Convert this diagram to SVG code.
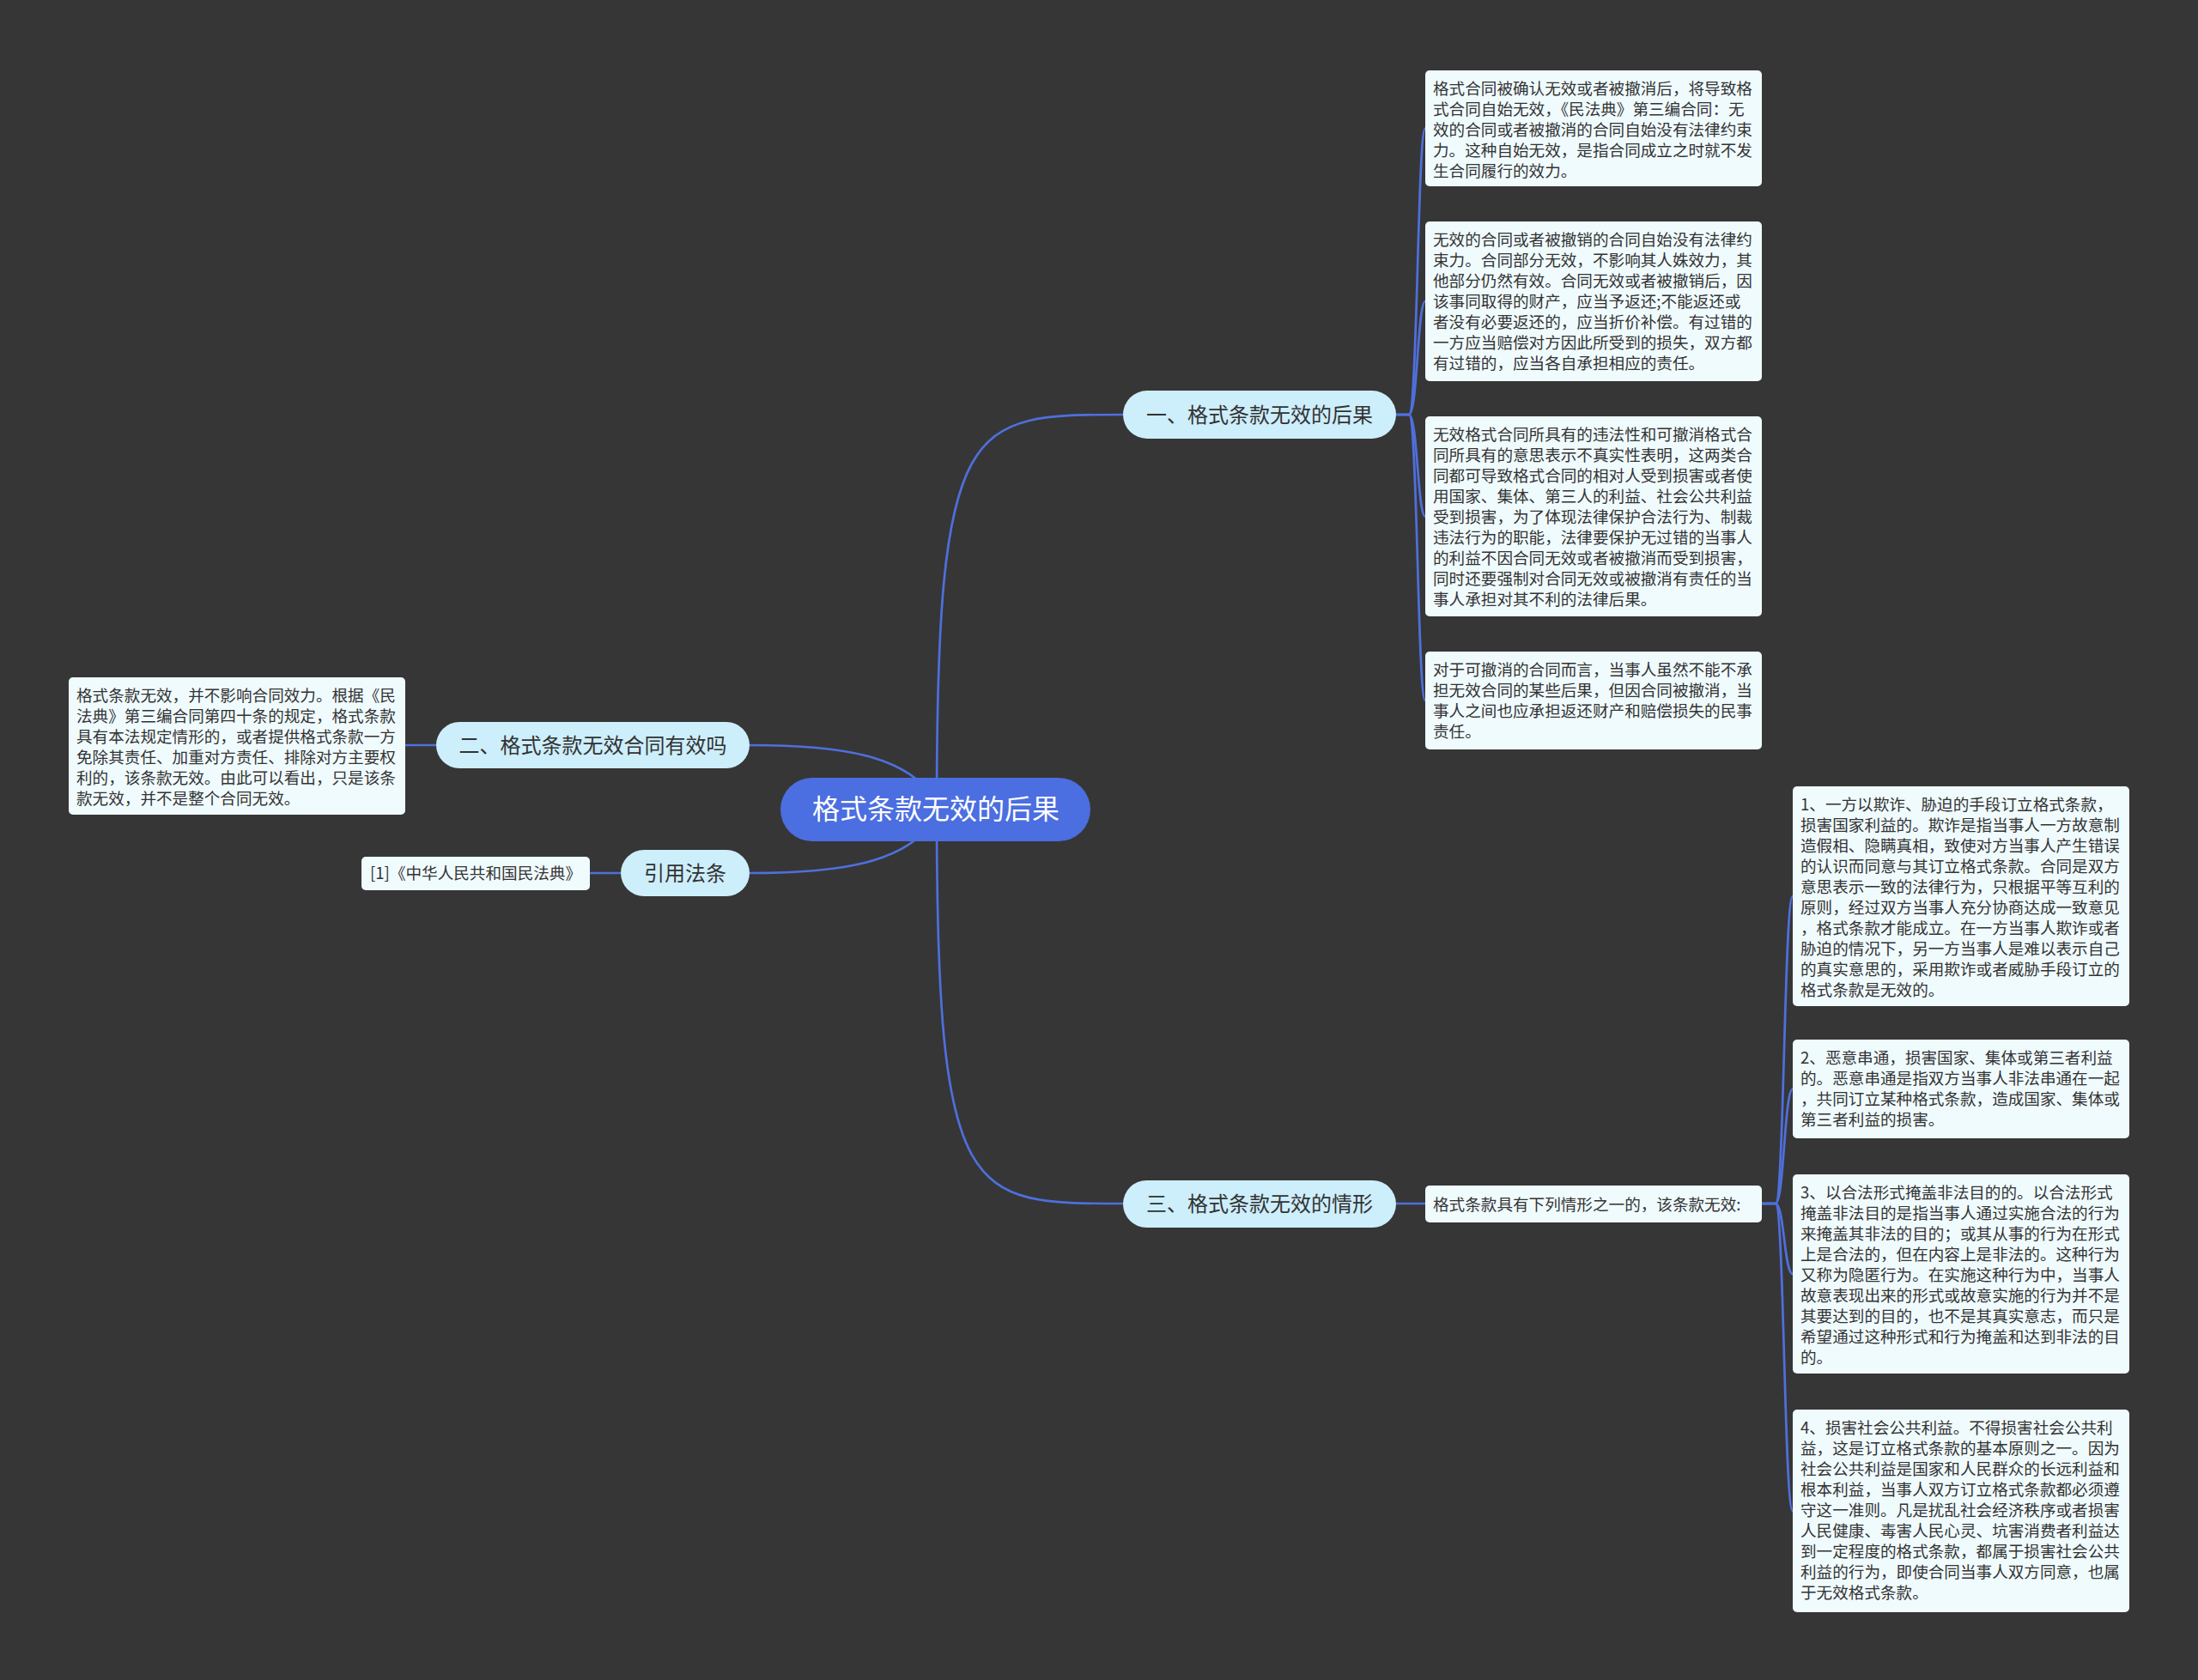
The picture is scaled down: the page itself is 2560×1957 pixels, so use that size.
<svg xmlns="http://www.w3.org/2000/svg" width="2560" height="1957" viewBox="0 0 2560 1957">
<style>
text{font-family:"Noto Sans CJK SC","Noto Sans",sans-serif;}
.conn{fill:none;stroke:#4F6FDC;stroke-width:2.7}
.root rect{fill:#4B6EE0}
.root text{fill:#ffffff;font-size:32px;text-anchor:middle}
.topic rect{fill:#CDEEFB}
.topic text{fill:#333333;font-size:24px;text-anchor:middle}
.leaf rect{fill:#F0FBFE}
.leaf text{fill:#333333;font-size:18.6px;transform:translateY(1.5px)}
</style>
<rect x="0" y="0" width="2560" height="1957" fill="#363636"/>
<g id="connectors">
<path class="conn" d="M1091,943 C1091,483 1127,483 1308,483"/>
<path class="conn" d="M1091,943 C1091,1402 1127,1402 1308,1402"/>
<path class="conn" d="M873,868 C980,868 1055,880 1088,930"/>
<path class="conn" d="M873,1017 C980,1017 1055,1005 1088,955"/>
<path class="conn" d="M508,868 L472,868"/>
<path class="conn" d="M723,1017 L687,1017"/>
<path class="conn" d="M1626,483 L1641,483 C1651,483 1651,149.5 1660,149.5"/>
<path class="conn" d="M1626,483 L1641,483 C1651,483 1651,351 1660,351"/>
<path class="conn" d="M1626,483 L1641,483 C1651,483 1651,601.5 1660,601.5"/>
<path class="conn" d="M1626,483 L1641,483 C1651,483 1651,816 1660,816"/>
<path class="conn" d="M1626,1402 L1660,1402"/>
<path class="conn" d="M2052,1402 L2068,1402 C2078,1402 2078,1044 2088,1044"/>
<path class="conn" d="M2052,1402 L2068,1402 C2078,1402 2078,1268.5 2088,1268.5"/>
<path class="conn" d="M2052,1402 L2068,1402 C2078,1402 2078,1484 2088,1484"/>
<path class="conn" d="M2052,1402 L2068,1402 C2078,1402 2078,1760 2088,1760"/>
</g>
<g id="root" class="root">
<rect x="909" y="906" width="361" height="74" rx="37"/>
<text x="1090" y="954">格式条款无效的后果</text>
</g>
<g id="topic1" class="topic">
<rect x="1308" y="455" width="318" height="56" rx="28"/>
<text x="1467" y="491.5">一、格式条款无效的后果</text>
</g>
<g id="topic2" class="topic">
<rect x="508" y="841" width="365" height="54" rx="27"/>
<text x="690.5" y="876.5">二、格式条款无效合同有效吗</text>
</g>
<g id="topic3" class="topic">
<rect x="1308" y="1375" width="318" height="55" rx="27.5"/>
<text x="1467" y="1411">三、格式条款无效的情形</text>
</g>
<g id="topic4" class="topic">
<rect x="723" y="990" width="150" height="54" rx="27"/>
<text x="798" y="1025.5">引用法条</text>
</g>
<g id="leaf-ref" class="leaf">
<rect x="421" y="998" width="266" height="39" rx="5"/>
<text x="431" y="1022.5">[1]《中华人民共和国民法典》</text>
</g>
<g id="leaf-2" class="leaf">
<rect x="80" y="789" width="392" height="160" rx="5"/>
<text>
<tspan x="89" y="815">格式条款无效，并不影响合同效力。根据《民</tspan>
<tspan x="89" y="839">法典》第三编合同第四十条的规定，格式条款</tspan>
<tspan x="89" y="863">具有本法规定情形的，或者提供格式条款一方</tspan>
<tspan x="89" y="887">免除其责任、加重对方责任、排除对方主要权</tspan>
<tspan x="89" y="911">利的，该条款无效。由此可以看出，只是该条</tspan>
<tspan x="89" y="935">款无效，并不是整个合同无效。</tspan>
</text>
</g>
<g id="leaf-1a" class="leaf">
<rect x="1660" y="82" width="392" height="135" rx="5"/>
<text>
<tspan x="1669" y="108">格式合同被确认无效或者被撤消后，将导致格</tspan>
<tspan x="1669" y="132">式合同自始无效，《民法典》第三编合同：无</tspan>
<tspan x="1669" y="156">效的合同或者被撤消的合同自始没有法律约束</tspan>
<tspan x="1669" y="180">力。这种自始无效，是指合同成立之时就不发</tspan>
<tspan x="1669" y="204">生合同履行的效力。</tspan>
</text>
</g>
<g id="leaf-1b" class="leaf">
<rect x="1660" y="258" width="392" height="186" rx="5"/>
<text>
<tspan x="1669" y="284">无效的合同或者被撤销的合同自始没有法律约</tspan>
<tspan x="1669" y="308">束力。合同部分无效，不影响其人姝效力，其</tspan>
<tspan x="1669" y="332">他部分仍然有效。合同无效或者被撤销后，因</tspan>
<tspan x="1669" y="356">该事同取得的财产，应当予返还;不能返还或</tspan>
<tspan x="1669" y="380">者没有必要返还的，应当折价补偿。有过错的</tspan>
<tspan x="1669" y="404">一方应当赔偿对方因此所受到的损失，双方都</tspan>
<tspan x="1669" y="428">有过错的，应当各自承担相应的责任。</tspan>
</text>
</g>
<g id="leaf-1c" class="leaf">
<rect x="1660" y="485" width="392" height="233" rx="5"/>
<text>
<tspan x="1669" y="511">无效格式合同所具有的违法性和可撤消格式合</tspan>
<tspan x="1669" y="535">同所具有的意思表示不真实性表明，这两类合</tspan>
<tspan x="1669" y="559">同都可导致格式合同的相对人受到损害或者使</tspan>
<tspan x="1669" y="583">用国家、集体、第三人的利益、社会公共利益</tspan>
<tspan x="1669" y="607">受到损害，为了体现法律保护合法行为、制裁</tspan>
<tspan x="1669" y="631">违法行为的职能，法律要保护无过错的当事人</tspan>
<tspan x="1669" y="655">的利益不因合同无效或者被撤消而受到损害，</tspan>
<tspan x="1669" y="679">同时还要强制对合同无效或被撤消有责任的当</tspan>
<tspan x="1669" y="703">事人承担对其不利的法律后果。</tspan>
</text>
</g>
<g id="leaf-1d" class="leaf">
<rect x="1660" y="759" width="392" height="114" rx="5"/>
<text>
<tspan x="1669" y="785">对于可撤消的合同而言，当事人虽然不能不承</tspan>
<tspan x="1669" y="809">担无效合同的某些后果，但因合同被撤消，当</tspan>
<tspan x="1669" y="833">事人之间也应承担返还财产和赔偿损失的民事</tspan>
<tspan x="1669" y="857">责任。</tspan>
</text>
</g>
<g id="leaf-3" class="leaf">
<rect x="1660" y="1381" width="392" height="43" rx="5"/>
<text x="1669" y="1408">格式条款具有下列情形之一的，该条款无效:</text>
</g>
<g id="leaf-3a" class="leaf">
<rect x="2088" y="916" width="392" height="256" rx="5"/>
<text>
<tspan x="2097" y="942">1、一方以欺诈、胁迫的手段订立格式条款，</tspan>
<tspan x="2097" y="966">损害国家利益的。欺诈是指当事人一方故意制</tspan>
<tspan x="2097" y="990">造假相、隐瞒真相，致使对方当事人产生错误</tspan>
<tspan x="2097" y="1014">的认识而同意与其订立格式条款。合同是双方</tspan>
<tspan x="2097" y="1038">意思表示一致的法律行为，只根据平等互利的</tspan>
<tspan x="2097" y="1062">原则，经过双方当事人充分协商达成一致意见</tspan>
<tspan x="2097" y="1086">，格式条款才能成立。在一方当事人欺诈或者</tspan>
<tspan x="2097" y="1110">胁迫的情况下，另一方当事人是难以表示自己</tspan>
<tspan x="2097" y="1134">的真实意思的，采用欺诈或者威胁手段订立的</tspan>
<tspan x="2097" y="1158">格式条款是无效的。</tspan>
</text>
</g>
<g id="leaf-3b" class="leaf">
<rect x="2088" y="1211" width="392" height="115" rx="5"/>
<text>
<tspan x="2097" y="1237">2、恶意串通，损害国家、集体或第三者利益</tspan>
<tspan x="2097" y="1261">的。恶意串通是指双方当事人非法串通在一起</tspan>
<tspan x="2097" y="1285">，共同订立某种格式条款，造成国家、集体或</tspan>
<tspan x="2097" y="1309">第三者利益的损害。</tspan>
</text>
</g>
<g id="leaf-3c" class="leaf">
<rect x="2088" y="1368" width="392" height="232" rx="5"/>
<text>
<tspan x="2097" y="1394">3、以合法形式掩盖非法目的的。以合法形式</tspan>
<tspan x="2097" y="1418">掩盖非法目的是指当事人通过实施合法的行为</tspan>
<tspan x="2097" y="1442">来掩盖其非法的目的；或其从事的行为在形式</tspan>
<tspan x="2097" y="1466">上是合法的，但在内容上是非法的。这种行为</tspan>
<tspan x="2097" y="1490">又称为隐匿行为。在实施这种行为中，当事人</tspan>
<tspan x="2097" y="1514">故意表现出来的形式或故意实施的行为并不是</tspan>
<tspan x="2097" y="1538">其要达到的目的，也不是其真实意志，而只是</tspan>
<tspan x="2097" y="1562">希望通过这种形式和行为掩盖和达到非法的目</tspan>
<tspan x="2097" y="1586">的。</tspan>
</text>
</g>
<g id="leaf-3d" class="leaf">
<rect x="2088" y="1642" width="392" height="236" rx="5"/>
<text>
<tspan x="2097" y="1668">4、损害社会公共利益。不得损害社会公共利</tspan>
<tspan x="2097" y="1692">益，这是订立格式条款的基本原则之一。因为</tspan>
<tspan x="2097" y="1716">社会公共利益是国家和人民群众的长远利益和</tspan>
<tspan x="2097" y="1740">根本利益，当事人双方订立格式条款都必须遵</tspan>
<tspan x="2097" y="1764">守这一准则。凡是扰乱社会经济秩序或者损害</tspan>
<tspan x="2097" y="1788">人民健康、毒害人民心灵、坑害消费者利益达</tspan>
<tspan x="2097" y="1812">到一定程度的格式条款，都属于损害社会公共</tspan>
<tspan x="2097" y="1836">利益的行为，即使合同当事人双方同意，也属</tspan>
<tspan x="2097" y="1860">于无效格式条款。</tspan>
</text>
</g>
</svg>
